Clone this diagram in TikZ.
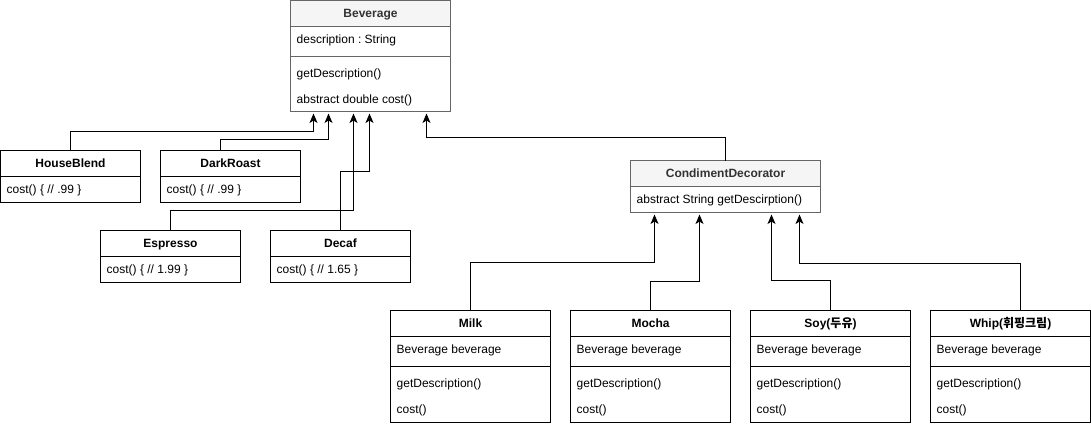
\documentclass[tikz,border=0pt]{standalone}
\usepackage{fontspec}
\setmainfont{Liberation Sans}
\newfontfamily\kr{Noto Sans CJK KR}
\usetikzlibrary{arrows.meta,calc}
\definecolor{gfill}{HTML}{F5F5F5}
\definecolor{gstroke}{HTML}{666666}
\definecolor{gtext}{HTML}{333333}
\frenchspacing
\begin{document}
\begin{tikzpicture}[x=1pt,y=-1pt,
  wbox/.style={draw=black, line width=1pt, anchor=north west, inner sep=0pt, outer sep=0pt},
  gbox/.style={draw=gstroke, line width=1pt, anchor=north west, inner sep=0pt, outer sep=0pt},
  wline/.style={draw=black, line width=1pt},
  gline/.style={draw=gstroke, line width=1pt},
  hdr/.style={font=\fontsize{12}{14}\selectfont\bfseries, text height=8.6pt, text depth=0pt, inner sep=0pt, anchor=center},
  txt/.style={font=\fontsize{12}{14}\selectfont, text height=8.6pt, text depth=0pt, inner sep=0pt, anchor=west},
  arr/.style={draw=black, line width=1pt, shorten >=2pt, -{Stealth[length=9.5pt,width=8pt,inset=2.5pt]}}
]
\useasboundingbox (0,0) rectangle (1091,426);

% ---------- Beverage ----------
\fill[gfill] (290.5,0.5) rectangle (450.5,26.5);
\node[gbox, minimum width=160pt, minimum height=111pt] (bev) at (290.5,0.5) {};
\draw[gline] (290.5,26.5) -- (450.5,26.5);
\draw[gline] (290.5,56.5) -- (450.5,56.5);
\node[hdr, text=gtext] (bevh) at (370.5,13.5) {Beverage};
\node[txt] (beva) at (296.5,39.5) {description : String};
\node[txt] (bevm1) at (296.5,73.5) {getDescription()};
\node[txt] (bevm2) at (296.5,99.5) {abstract double cost()};

% ---------- concrete beverages ----------
\node[wbox, minimum width=140pt, minimum height=52pt] (hb) at (0.5,150.5) {};
\draw[wline] (0.5,176.5) -- (140.5,176.5);
\node[hdr] (hbh) at (70.5,163.5) {HouseBlend};
\node[txt] (hba) at (6.5,189.5) {cost() \{ // .99 \}};

\node[wbox, minimum width=140pt, minimum height=52pt] (dr) at (160.5,150.5) {};
\draw[wline] (160.5,176.5) -- (300.5,176.5);
\node[hdr] (drh) at (230.5,163.5) {DarkRoast};
\node[txt] (dra) at (166.5,189.5) {cost() \{ // .99 \}};

\node[wbox, minimum width=140pt, minimum height=52pt] (es) at (100.5,230.5) {};
\draw[wline] (100.5,256.5) -- (240.5,256.5);
\node[hdr] (esh) at (170.5,243.5) {Espresso};
\node[txt] (esa) at (106.5,269.5) {cost() \{ // 1.99 \}};

\node[wbox, minimum width=140pt, minimum height=52pt] (dc) at (270.5,230.5) {};
\draw[wline] (270.5,256.5) -- (410.5,256.5);
\node[hdr] (dch) at (340.5,243.5) {Decaf};
\node[txt] (dca) at (276.5,269.5) {cost() \{ // 1.65 \}};

% ---------- CondimentDecorator ----------
\fill[gfill] (630.5,160.5) rectangle (820.5,186.5);
\node[gbox, minimum width=190pt, minimum height=52pt] (cd) at (630.5,160.5) {};
\draw[gline] (630.5,186.5) -- (820.5,186.5);
\node[hdr, text=gtext] (cdh) at (725.5,173.5) {CondimentDecorator};
\node[txt] (cda) at (636.5,199.5) {abstract String getDescirption()};

% ---------- decorators ----------
\node[wbox, minimum width=160pt, minimum height=112pt] (mi) at (390.5,310.5) {};
\draw[wline] (390.5,336.5) -- (550.5,336.5);
\draw[wline] (390.5,366.5) -- (550.5,366.5);
\node[hdr] (mih) at (470.5,323.5) {Milk};
\node[txt] (mia) at (396.5,349.5) {Beverage beverage};
\node[txt] (mim1) at (396.5,383.5) {getDescription()};
\node[txt] (mim2) at (396.5,409.5) {cost()};

\node[wbox, minimum width=160pt, minimum height=112pt] (mo) at (570.5,310.5) {};
\draw[wline] (570.5,336.5) -- (730.5,336.5);
\draw[wline] (570.5,366.5) -- (730.5,366.5);
\node[hdr] (moh) at (650.5,323.5) {Mocha};
\node[txt] (moa) at (576.5,349.5) {Beverage beverage};
\node[txt] (mom1) at (576.5,383.5) {getDescription()};
\node[txt] (mom2) at (576.5,409.5) {cost()};

\node[wbox, minimum width=160pt, minimum height=112pt] (so) at (750.5,310.5) {};
\draw[wline] (750.5,336.5) -- (910.5,336.5);
\draw[wline] (750.5,366.5) -- (910.5,366.5);
\node[hdr] (soh) at (830.5,323.5) {Soy({\kr\bfseries 두유})};
\node[txt] (soa) at (756.5,349.5) {Beverage beverage};
\node[txt] (som1) at (756.5,383.5) {getDescription()};
\node[txt] (som2) at (756.5,409.5) {cost()};

\node[wbox, minimum width=160pt, minimum height=112pt] (wh) at (930.5,310.5) {};
\draw[wline] (930.5,336.5) -- (1090.5,336.5);
\draw[wline] (930.5,366.5) -- (1090.5,366.5);
\node[hdr] (whh) at (1010.5,323.5) {Whip({\kr\bfseries 휘핑크림})};
\node[txt] (wha) at (936.5,349.5) {Beverage beverage};
\node[txt] (whm1) at (936.5,383.5) {getDescription()};
\node[txt] (whm2) at (936.5,409.5) {cost()};

% ---------- connectors ----------
\draw[arr] (hb.north) -- ++(0,-19) -| ($(bev.south west)+(23,0)$);
\draw[arr] ($(dr.north)+(-10,0)$) -- ++(0,-11) -| ($(bev.south west)+(38,0)$);
\draw[arr] (es.north) -- ++(0,-20) -| ($(bev.south west)+(63,0)$);
\draw[arr] (dc.north) -- ++(0,-59) -| ($(bev.south west)+(79,0)$);
\draw[arr] (cd.north) -- ++(0,-23) -| ($(bev.south west)+(136,0)$);

\draw[arr] (mi.north) -- ++(0,-48) -| ($(cd.south west)+(24,0)$);
\draw[arr] (mo.north) -- ++(0,-29) -| ($(cd.south west)+(69,0)$);
\draw[arr] (so.north) -- ++(0,-30) -| ($(cd.south west)+(141,0)$);
\draw[arr] ($(wh.north)+(10,0)$) -- ++(0,-47) -| ($(cd.south west)+(169,0)$);
\end{tikzpicture}
\end{document}
